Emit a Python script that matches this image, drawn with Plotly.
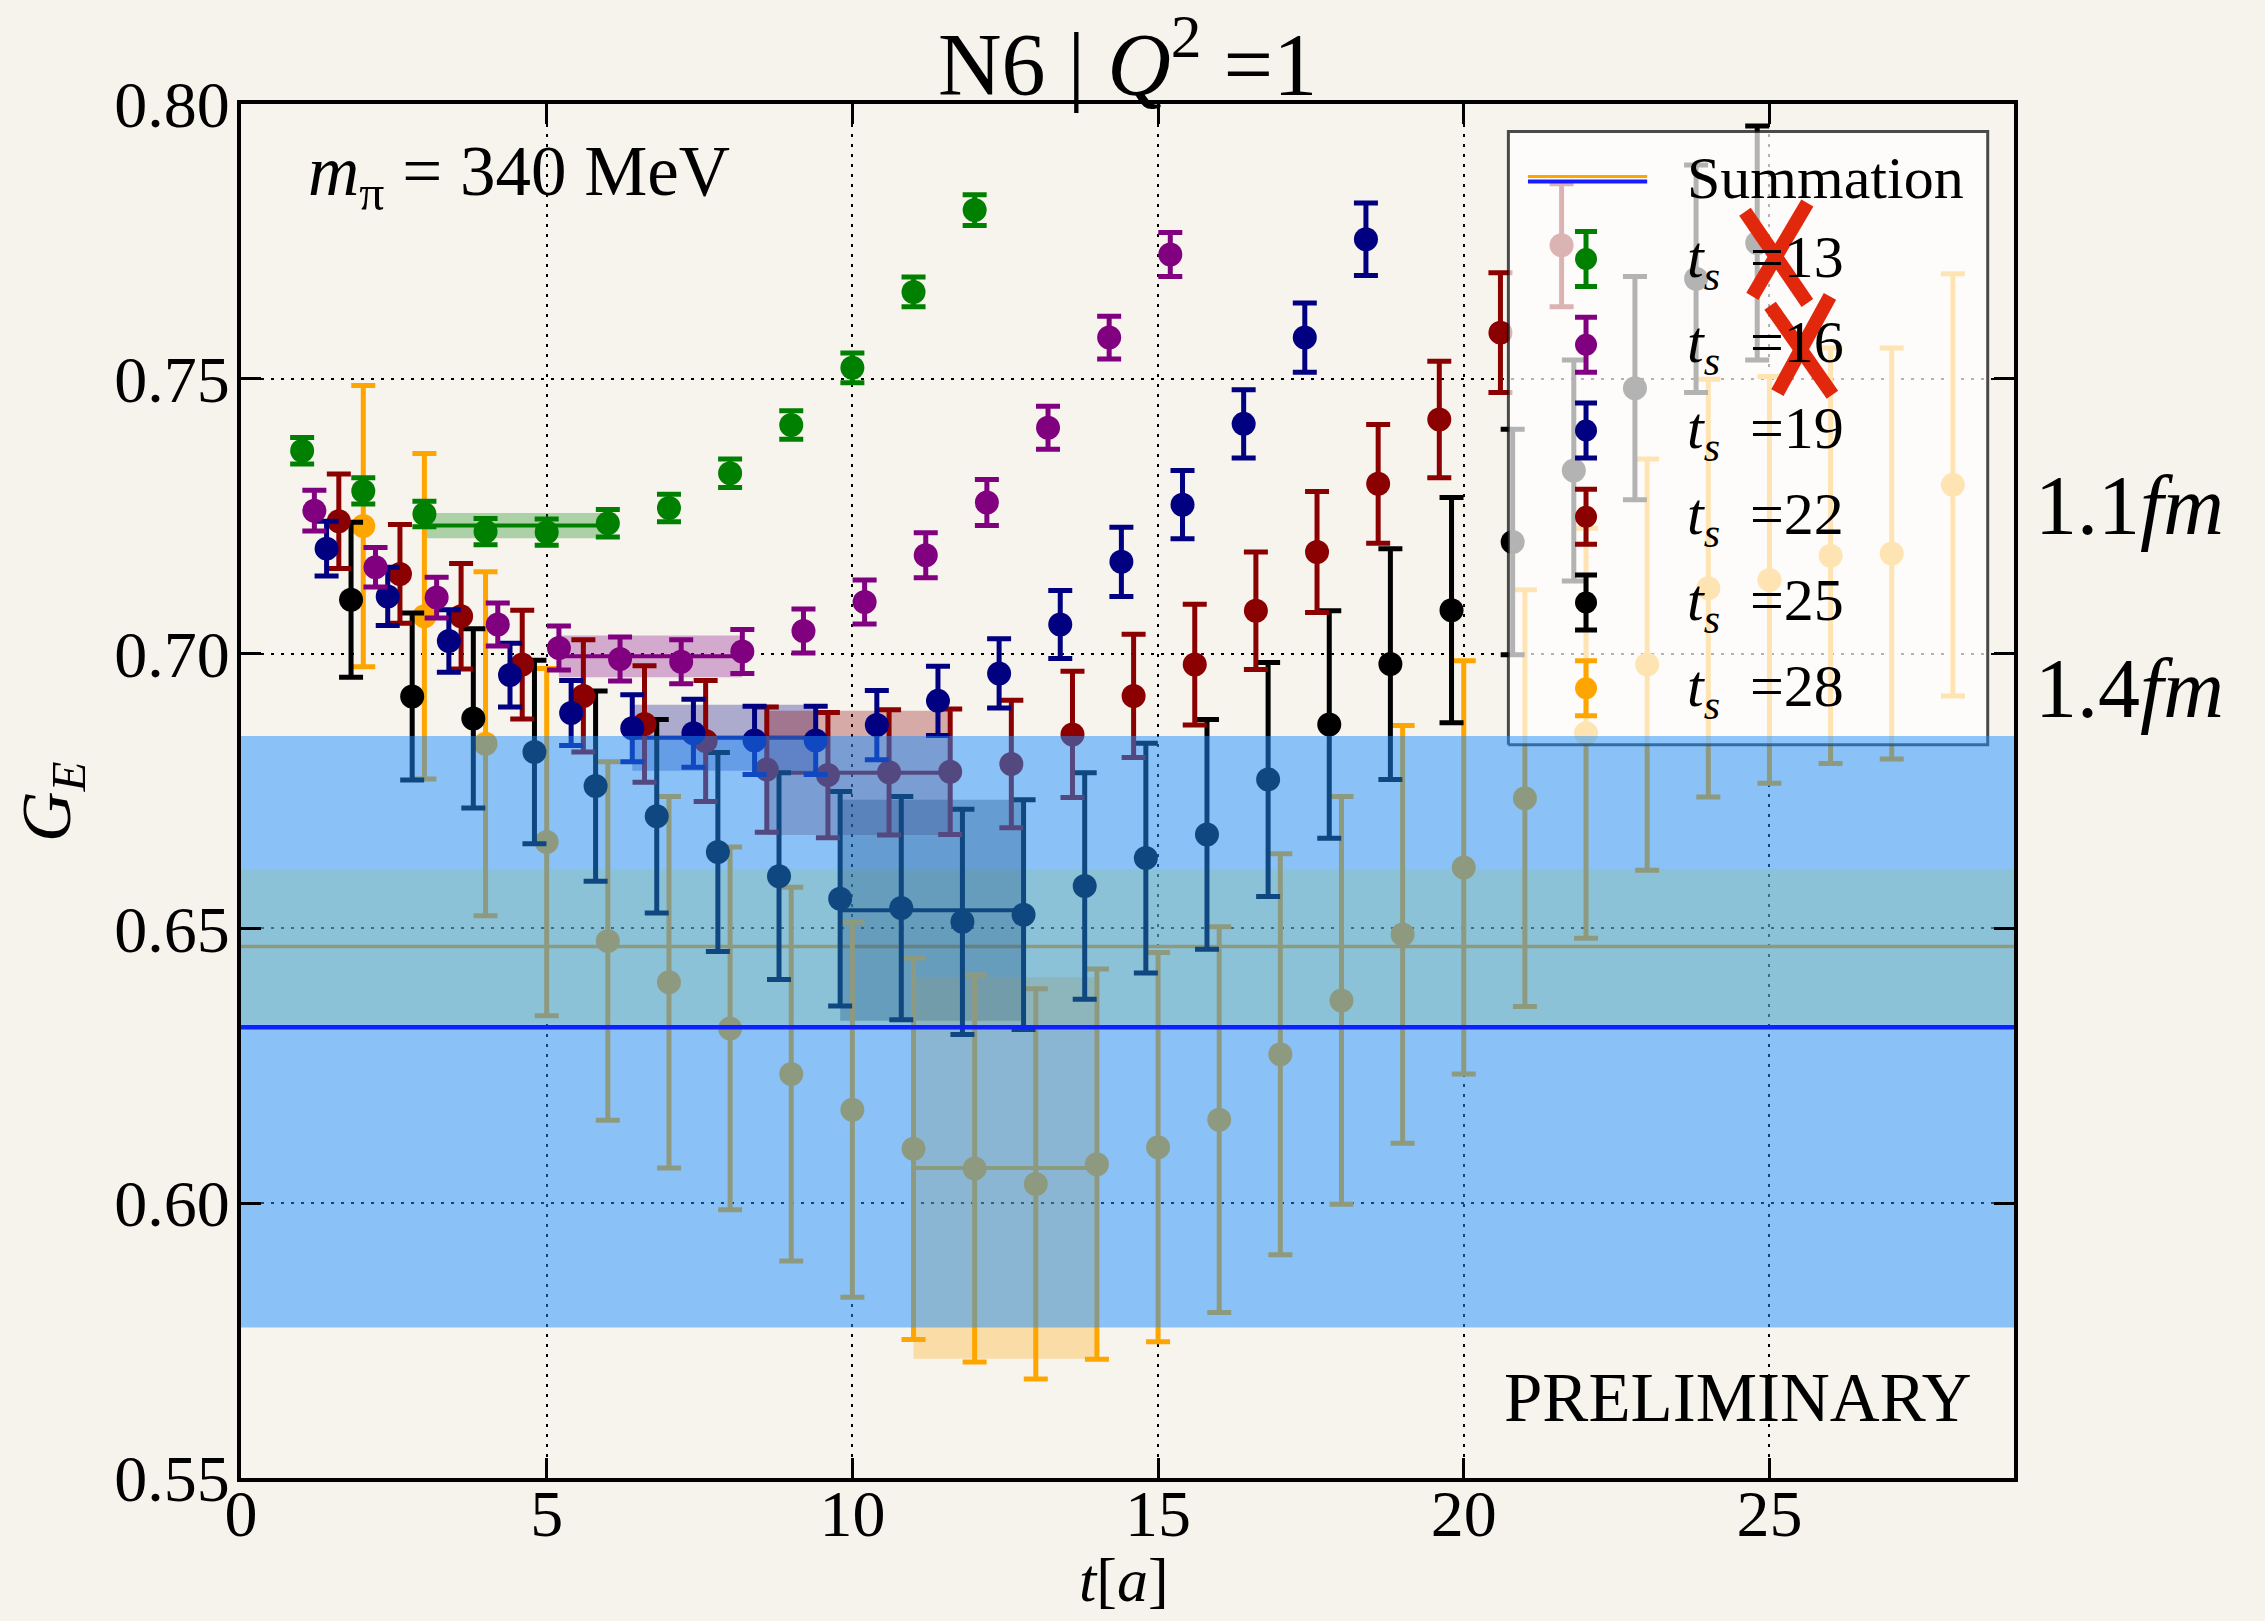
import plotly.graph_objects as go

# ---------------- data ----------------
ts_values = [13, 16, 19, 22, 25, 28]
series_colors = ['#008000', '#800080', '#000080', '#8b0000', '#000000', '#ffa500']
series_shift = [0.0, 0.2, 0.4, 0.6, 0.8, 1.0]

ge_ts13 = [0.7369, 0.7296, 0.7254, 0.7222, 0.7221, 0.7237, 0.7265, 0.7328, 0.7416, 0.7520, 0.7658, 0.7807]
err_ts13 = [0.0024, 0.0024, 0.0023, 0.0024, 0.0024, 0.0025, 0.0025, 0.0026, 0.0026, 0.0027, 0.0027, 0.0028]

ge_ts16 = [0.7260, 0.7157, 0.7102, 0.7053, 0.7010, 0.6990, 0.6985, 0.7004, 0.7041, 0.7094, 0.7179, 0.7275,
           0.7411, 0.7575, 0.7726]
err_ts16 = [0.0037, 0.0036, 0.0037, 0.0039, 0.0040, 0.0040, 0.0040, 0.0040, 0.0040, 0.0040, 0.0041, 0.0042,
            0.0039, 0.0039, 0.0040]

ge_ts19 = [0.7191, 0.7104, 0.7023, 0.6961, 0.6892, 0.6864, 0.6855, 0.6842, 0.6842, 0.6870, 0.6914, 0.6964,
           0.7053, 0.7167, 0.7271, 0.7418, 0.7575, 0.7754]
err_ts19 = [0.0050, 0.0053, 0.0057, 0.0058, 0.0059, 0.0061, 0.0062, 0.0062, 0.0062, 0.0063, 0.0063, 0.0063,
            0.0062, 0.0063, 0.0062, 0.0062, 0.0063, 0.0066]

ge_ts22 = [0.7241, 0.7145, 0.7068, 0.6980, 0.6923, 0.6872, 0.6841, 0.6789, 0.6779, 0.6784, 0.6785, 0.6799,
           0.6853, 0.6923, 0.6980, 0.7078, 0.7185, 0.7309, 0.7426, 0.7584, 0.7743]
err_ts22 = [0.0086, 0.0090, 0.0096, 0.0099, 0.0102, 0.0106, 0.0110, 0.0114, 0.0114, 0.0114, 0.0114, 0.0116,
            0.0115, 0.0112, 0.0110, 0.0107, 0.0110, 0.0108, 0.0106, 0.0109, 0.0112]

ge_ts25 = [0.7098, 0.6922, 0.6882, 0.6821, 0.6759, 0.6704, 0.6639, 0.6595, 0.6554, 0.6537, 0.6512, 0.6525,
           0.6577, 0.6628, 0.6671, 0.6771, 0.6871, 0.6981, 0.7079, 0.7203, 0.7333, 0.7483, 0.7682, 0.7747]
err_ts25 = [0.0141, 0.0152, 0.0163, 0.0167, 0.0173, 0.0176, 0.0181, 0.0188, 0.0195, 0.0203, 0.0205, 0.0209,
            0.0206, 0.0209, 0.0209, 0.0213, 0.0207, 0.0210, 0.0205, 0.0205, 0.0201, 0.0203, 0.0207, 0.0213]

ge_ts28 = [0.7232, 0.7068, 0.6836, 0.6657, 0.6477, 0.6402, 0.6318, 0.6235, 0.6170, 0.6099, 0.6063, 0.6035,
           0.6071, 0.6102, 0.6152, 0.6271, 0.6369, 0.6489, 0.6611, 0.6737, 0.6855, 0.6980, 0.7119, 0.7134,
           0.7178, 0.7182, 0.7307]
err_ts28 = [0.0256, 0.0296, 0.0313, 0.0316, 0.0326, 0.0338, 0.0330, 0.0340, 0.0341, 0.0347, 0.0352, 0.0355,
            0.0355, 0.0354, 0.0351, 0.0365, 0.0371, 0.0380, 0.0376, 0.0379, 0.0373, 0.0374, 0.0380, 0.0370,
            0.0378, 0.0374, 0.0384]

series_values = [ge_ts13, ge_ts16, ge_ts19, ge_ts22, ge_ts25, ge_ts28]
series_errors = [err_ts13, err_ts16, err_ts19, err_ts22, err_ts25, err_ts28]

# plateau fits (t range, value, error)
plateau_t_start = [3, 5, 6, 8, 9, 10]
plateau_t_end = [6, 8, 9, 11, 12, 13]
plateau_value = [0.7233, 0.6995, 0.6847, 0.6783, 0.6533, 0.6064]
plateau_error = [0.0023, 0.0038, 0.0060, 0.0113, 0.0201, 0.0347]

# summation results
summation_blue = 0.6320
summation_blue_lo = 0.5774
summation_blue_hi = 0.6850
summation_orange = 0.6467
summation_orange_lo = 0.6327
summation_orange_hi = 0.6608

x_range = [0, 29]
y_range = [0.55, 0.80]
x_ticks = [0, 5, 10, 15, 20, 25]
y_ticks = [0.55, 0.60, 0.65, 0.70, 0.75, 0.80]

# ---------------- styling / layout helpers ----------------
W, H = 2265, 1621
L, R, T, B = 241, 2014.5, 103.7, 1478.2
FONT = 'Liberation Serif'
BG = '#f6f3ec'


def rgba(hexc, a):
    hexc = hexc.lstrip('#')
    r, g, b = int(hexc[0:2], 16), int(hexc[2:4], 16), int(hexc[4:6], 16)
    return f'rgba({r},{g},{b},{a})'


def pxx(xf):
    return (xf - L) / (R - L)


def pxy(yf):
    return (B - yf) / (B - T)


fig = go.Figure()
x0, x1 = x_range

# orange summation band + line (beneath data)
fig.add_trace(go.Scatter(x=[x0, x1, x1, x0], y=[summation_orange_lo, summation_orange_lo,
                                                summation_orange_hi, summation_orange_hi],
                         fill='toself', fillcolor='rgba(255,250,40,0.32)', mode='lines',
                         line=dict(width=0), hoverinfo='skip', showlegend=False))
fig.add_trace(go.Scatter(x=[x0, x1], y=[summation_orange, summation_orange], mode='lines',
                         line=dict(color='#ffa500', width=3.5), hoverinfo='skip', showlegend=False))

# plateau bands
for i in range(6):
    c = series_colors[i]
    xa = plateau_t_start[i] + series_shift[i]
    xb = plateau_t_end[i] + series_shift[i]
    v, e = plateau_value[i], plateau_error[i]
    fig.add_trace(go.Scatter(x=[xa, xb, xb, xa], y=[v - e, v - e, v + e, v + e], fill='toself',
                             fillcolor=rgba(c, 0.3), mode='lines', line=dict(width=0),
                             hoverinfo='skip', showlegend=False))
    fig.add_trace(go.Scatter(x=[xa, xb], y=[v, v], mode='lines', line=dict(color=c, width=4),
                             hoverinfo='skip', showlegend=False))

# data series (largest ts first so that ts=13 ends on top)
for i in reversed(range(6)):
    ts = ts_values[i]
    t = list(range(1, ts))
    xs = [tt + series_shift[i] for tt in t]
    c = series_colors[i]
    fig.add_trace(go.Scatter(x=xs, y=series_values[i], mode='markers',
                             marker=dict(size=24, color=c, line=dict(width=0)),
                             error_y=dict(type='data', array=series_errors[i], color=c,
                                          thickness=5, width=12),
                             name=f'ts={ts}', showlegend=False))

# legend box (semi-transparent white, drawn over data but under the blue band)
leg_x0, leg_x1, leg_y0, leg_y1 = 20.73, 28.57, 0.6834, 0.7950
fig.add_trace(go.Scatter(x=[leg_x0, leg_x1, leg_x1, leg_x0, leg_x0],
                         y=[leg_y0, leg_y0, leg_y1, leg_y1, leg_y0],
                         fill='toself', fillcolor='rgba(255,255,255,0.7)', mode='lines',
                         line=dict(color='rgba(0,0,0,0.7)', width=3), hoverinfo='skip', showlegend=False))

# legend symbols
leg_line_x = [21.05, 23.0]
fig.add_trace(go.Scatter(x=leg_line_x, y=[0.7859, 0.7859], mode='lines',
                         line=dict(color='#1a1aff', width=4), hoverinfo='skip', showlegend=False))
fig.add_trace(go.Scatter(x=leg_line_x, y=[0.7868, 0.7868], mode='lines',
                         line=dict(color='#ffa500', width=3), hoverinfo='skip', showlegend=False))
leg_rows = [0.7718, 0.7562, 0.7406, 0.7249, 0.7093, 0.6937]
for i in range(6):
    fig.add_trace(go.Scatter(x=[22.0], y=[leg_rows[i]], mode='markers',
                             marker=dict(size=22, color=series_colors[i]),
                             error_y=dict(type='constant', value=0.0050, color=series_colors[i],
                                          thickness=5, width=11),
                             hoverinfo='skip', showlegend=False))

# blue summation band over everything
fig.add_trace(go.Scatter(x=[x0, x1, x1, x0], y=[summation_blue_lo, summation_blue_lo,
                                                summation_blue_hi, summation_blue_hi],
                         fill='toself', fillcolor='rgba(30,144,255,0.5)', mode='lines',
                         line=dict(width=0), hoverinfo='skip', showlegend=False))
fig.add_trace(go.Scatter(x=[x0, x1], y=[summation_blue, summation_blue], mode='lines',
                         line=dict(color='#1020ff', width=4.5), hoverinfo='skip', showlegend=False))

# ---------------- annotations ----------------
ann = []
ann.append(dict(text='N6 | <i>Q</i><sup>2</sup> =1', x=0.5, y=pxy(57), xref='paper', yref='paper',
                xanchor='center', yanchor='middle', showarrow=False, font=dict(size=88, family=FONT, color='black')))
ann.append(dict(text='<i>m</i><sub>π</sub> = 340 MeV', x=pxx(306), y=pxy(176), xref='paper', yref='paper',
                xanchor='left', yanchor='middle', showarrow=False, font=dict(size=71, family=FONT, color='black')))
ann.append(dict(text='PRELIMINARY', x=pxx(1974), y=pxy(1398), xref='paper', yref='paper',
                xanchor='right', yanchor='middle', showarrow=False, font=dict(size=69, family=FONT, color='black')))
ann.append(dict(text='1.1<i>fm</i>', x=pxx(2034), y=pxy(505), xref='paper', yref='paper',
                xanchor='left', yanchor='middle', showarrow=False, font=dict(size=84, family=FONT, color='black')))
ann.append(dict(text='1.4<i>fm</i>', x=pxx(2034), y=pxy(688), xref='paper', yref='paper',
                xanchor='left', yanchor='middle', showarrow=False, font=dict(size=84, family=FONT, color='black')))
ann.append(dict(text='<i>G</i><sub><i>E</i></sub>', x=pxx(52), y=pxy(802), xref='paper', yref='paper',
                xanchor='center', yanchor='middle', textangle=-90, showarrow=False,
                font=dict(size=70, family=FONT, color='black')))
ann.append(dict(text='<i>t</i>[<i>a</i>]', x=pxx(1124), y=pxy(1580), xref='paper', yref='paper',
                xanchor='center', yanchor='middle', showarrow=False, font=dict(size=62, family=FONT, color='black')))

# legend texts
ann.append(dict(text='Summation', x=23.62, y=0.7866, xref='x', yref='y', xanchor='left', yanchor='middle',
                showarrow=False, font=dict(size=60, family=FONT, color='black')))
for i in range(6):
    ann.append(dict(text=f'<i>t</i><sub><i>s</i></sub>&nbsp;&nbsp;={ts_values[i]}', x=23.62, y=leg_rows[i] - 0.0004,
                    xref='x', yref='y', xanchor='left', yanchor='middle', showarrow=False,
                    font=dict(size=60, family=FONT, color='black')))

# red crosses over ts=13 and ts=16
red = '#e2280c'
cross_strokes = [
    (24.60, 0.7804, 25.62, 0.7638), (25.62, 0.7820, 24.72, 0.7650),
    (25.01, 0.7633, 26.03, 0.7471), (25.99, 0.7650, 25.13, 0.7475),
]
shapes = []
for (xa, ya, xb, yb) in cross_strokes:
    shapes.append(dict(type='line', xref='x', yref='y', x0=xa, y0=ya, x1=xb, y1=yb,
                       line=dict(color=red, width=14), layer='above'))

axis_common = dict(showline=True, linewidth=4, linecolor='black', mirror='ticks', ticks='inside',
                   ticklen=20, tickwidth=2.5, tickcolor='black', showgrid=True, gridcolor='black',
                   gridwidth=2, griddash='3px,7px', zeroline=False,
                   tickfont=dict(size=66, family=FONT, color='black'))

fig.update_layout(
    width=W, height=H,
    margin=dict(l=L, r=W - R, t=T, b=H - B, pad=0),
    paper_bgcolor=BG, plot_bgcolor='#f7f4ee',
    showlegend=False,
    annotations=ann, shapes=shapes,
    xaxis=dict(range=x_range, tickvals=x_ticks, ticktext=[str(v) for v in x_ticks],
               ticklabelstandoff=-25, **axis_common),
    yaxis=dict(range=y_range, tickvals=y_ticks, ticktext=[f'{v:.2f}' for v in y_ticks],
               ticklabelstandoff=-6, **axis_common),
)

fig.write_html('out.html')
